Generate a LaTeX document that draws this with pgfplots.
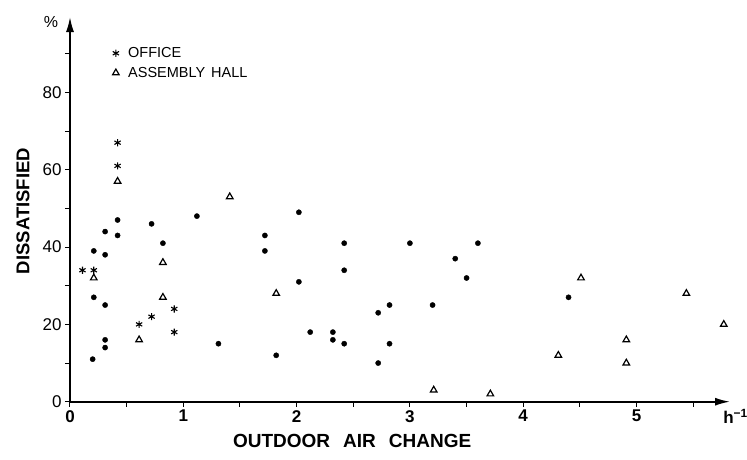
\documentclass[border=0pt]{standalone}
\usepackage{pgfplots}
\pgfplotsset{compat=1.18}
\usetikzlibrary{arrows.meta}
\usepackage{fontspec}
\setmainfont{Liberation Sans}
\begin{document}
\begin{tikzpicture}
\path[use as bounding box] (-70pt,-57.3pt) rectangle (677pt,401.7pt);
\begin{axis}[
  at={(0pt,0pt)}, anchor=south west,
  scale only axis, width=660pt, height=384.7pt,
  xmin=0, xmax=5.825, ymin=0, ymax=99.5,
  axis lines=left,
  axis line style={line width=1.7pt, -{Latex[length=15pt,width=8pt]}},
  tick align=outside,
  xtick={0,1,2,3,4,5}, minor xtick={0.5,1.5,2.5,3.5,4.5,5.5},
  ytick={0,20,40,60,80}, minor ytick={10,30,50,70,90},
  major tick length=5pt, minor tick length=5pt,
  tick style={line width=1pt, black},
  /pgf/number format/assume math mode=true,
  xticklabel style={font=\fontsize{17}{20}\selectfont\bfseries},
  yticklabel style={font=\fontsize{17}{20}\selectfont},
  clip=false,
  xlabel={OUTDOOR\hspace{13pt}AIR\hspace{13pt}CHANGE},
  xlabel style={at={(axis description cs:0.4275,-0.1025)}, anchor=center, font=\fontsize{19}{22}\selectfont\bfseries},
  ylabel={DISSATISFIED},
  ylabel style={at={(axis description cs:-0.0712,0.4955)}, anchor=center, font=\fontsize{18.5}{22}\selectfont\bfseries},
  legend style={at={(axis cs:0.374,92.2)}, anchor=north west, draw=none, fill=none, inner sep=0pt,
    font=\fontsize{14.5}{17}\selectfont, row sep=4pt, column sep=7pt},
  legend cell align=left,
]
\addplot[only marks, mark=asterisk, mark size=3.6pt, line width=1.1pt,
  legend image code/.code={\draw[mark repeat=2,mark phase=2] plot coordinates {(-3pt,0pt)(0pt,0pt)(3pt,0pt)};}]
  coordinates {(0.42,67) (0.42,61) (0.11,34) (0.21,34) (0.92,24) (0.72,22) (0.61,20) (0.92,18)};
\addlegendentry{OFFICE}
\addplot[only marks, mark=triangle, mark size=3.8pt, line width=1.2pt,
  legend image code/.code={\draw[mark repeat=2,mark phase=2] plot coordinates {(-3pt,0pt)(0pt,0pt)(3pt,0pt)};}]
  coordinates {(0.42,57) (1.41,53) (0.82,36) (0.21,32) (0.82,27) (0.61,16) (1.82,28) (3.21,3) (3.71,2) (4.31,12) (4.51,32) (4.91,16) (4.91,10) (5.44,28) (5.77,20)};
\addlegendentry{ASSEMBLY\hspace{6pt}HALL}
\addplot[only marks, mark=*, mark size=2.6pt, forget plot]
  coordinates {(0.42,47) (1.12,48) (0.72,46) (0.31,44) (0.42,43) (0.82,41) (0.21,39) (0.31,38) (0.21,27) (0.31,25) (0.31,16) (0.31,14) (0.20,11) (1.31,15) (2.02,49) (1.72,43) (1.72,39) (2.42,41) (2.42,34) (2.02,31) (2.82,25) (2.72,23) (2.12,18) (2.32,18) (2.32,16) (2.42,15) (2.82,15) (1.82,12) (2.72,10) (3.0,41) (3.6,41) (3.4,37) (3.5,32) (3.2,25) (4.4,27)};
\node[font=\fontsize{16}{18}\selectfont] at (axis cs:-0.168,98.2) {\%};
\node[anchor=base west, font=\fontsize{17}{20}\selectfont\bfseries] at (axis cs:5.735,-5.6) {h\textsuperscript{−1}};
\end{axis}
\end{tikzpicture}
\end{document}
